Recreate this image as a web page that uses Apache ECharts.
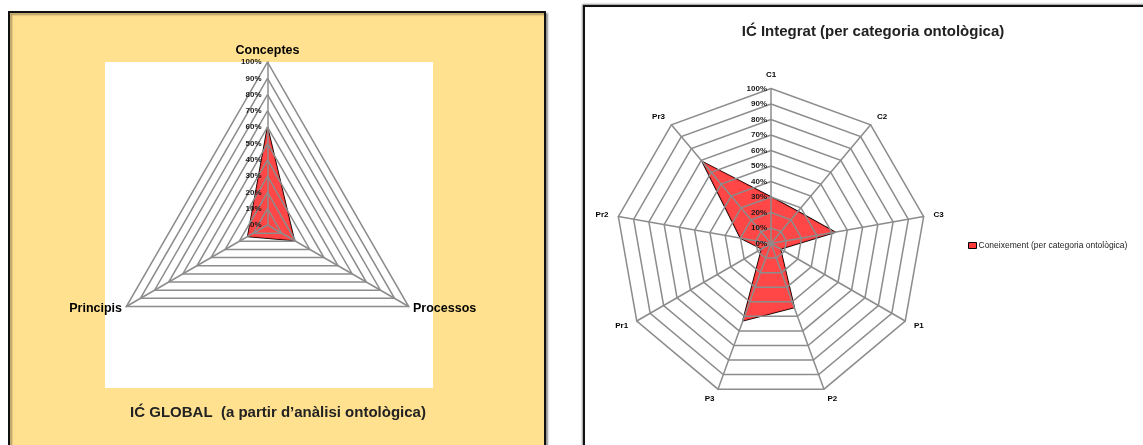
<!DOCTYPE html>
<html><head><meta charset="utf-8">
<script src="https://cdn.jsdelivr.net/npm/echarts@6/dist/echarts.min.js"></script>
<style>html,body{margin:0;padding:0;background:#fff}#c{width:1143px;height:445px}</style>
</head><body><div id="c"></div>
<script>
// ---- data (clockwise from top, as in the reference) ----
const globalCategories = ['Conceptes', 'Processos', 'Principis'];
const globalValues = [60, 19, 14];
const integratCategories = ['C1', 'C2', 'C3', 'P1', 'P2', 'P3', 'Pr1', 'Pr2', 'Pr3'];
const integratValues = [30, 27, 42, 7, 44, 53, 7, 20, 69];
const tickLabels = ['0%', '10%', '20%', '30%', '40%', '50%', '60%', '70%', '80%', '90%', '100%'];
const leftTitle = 'IĆ GLOBAL  (a partir d\u2019anàlisi ontològica)';
const rightTitle = 'IĆ Integrat (per categoria ontològica)';
const legendName = 'Coneixement (per categoria ontològica)';

// ECharts lays radar indicators out counter-clockwise; reorder to get clockwise
const cw = arr => [arr[0]].concat(arr.slice(1).reverse());

const FONT = 'Liberation Sans';
const GRID = '#8c8c8c';

function radarCfg(center, radius, cats, nameSize, nameGap, labelMargin) {
  return {
    z: 3,
    center: center, radius: radius, startAngle: 90, shape: 'polygon', splitNumber: 10,
    indicator: cw(cats).map((n, i) => ({ name: n, min: 0, max: 100, axisLabel: { show: i === 0 } })),
    axisName: { color: '#000', fontSize: nameSize, fontWeight: 'bold', fontFamily: FONT },
    nameGap: nameGap,
    axisLine: { lineStyle: { color: GRID, width: 1.5 } },
    splitLine: { lineStyle: { color: GRID, width: 1.5 } },
    splitArea: { show: false },
    axisTick: { show: false },
    axisLabel: {
      show: true, fontSize: 8, color: '#1a1a1a', fontFamily: FONT, fontWeight: 'bold',
      margin: labelMargin,
      formatter: v => tickLabels[Math.round(v / 10)]
    }
  };
}

const chart = echarts.init(document.getElementById('c'));
chart.setOption({
  animation: false,
  graphic: [
    { type: 'rect', z: -20, shape: { x: 9, y: 12, width: 536, height: 445 },
      style: { fill: '#FFE18F', stroke: '#111', lineWidth: 2, shadowColor: 'rgba(0,0,0,0.35)', shadowOffsetX: 2, shadowOffsetY: 2, shadowBlur: 2 } },
    { type: 'rect', z: -19, shape: { x: 105, y: 62, width: 328, height: 326 },
      style: { fill: '#fff' } },
    { type: 'rect', z: -20, shape: { x: 584, y: 6, width: 580, height: 460 },
      style: { fill: '#fff', stroke: '#111', lineWidth: 2, shadowColor: 'rgba(0,0,0,0.35)', shadowOffsetX: -1, shadowOffsetY: -1, shadowBlur: 2 } }
  ],
  title: [
    { text: leftTitle, left: 273, top: 400, textAlign: 'center',
      textStyle: { fontSize: 15, fontWeight: 'bold', color: '#222', fontFamily: FONT } },
    { text: rightTitle, left: 868, top: 19, textAlign: 'center',
      textStyle: { fontSize: 15, fontWeight: 'bold', color: '#222', fontFamily: FONT } }
  ],
  legend: {
    data: [legendName], left: 963, top: 236, orient: 'vertical',
    icon: 'rect', itemWidth: 8, itemHeight: 6, itemGap: 4,
    itemStyle: { borderColor: '#000', borderWidth: 1 },
    textStyle: { fontSize: 8.5, color: '#222', fontFamily: FONT, padding: [0, 0, 0, -3] }
  },
  radar: [
    radarCfg([267.5, 225], 163, globalCategories, 12.5, 5, 6),
    radarCfg([771, 243.5], 155, integratCategories, 8, 10, 4)
  ],
  series: [
    { type: 'radar', radarIndex: 0, symbol: 'none',
      lineStyle: { color: '#000', width: 1.5 },
      itemStyle: { color: '#FF3B3B' },
      areaStyle: { color: '#FF3333', opacity: 0.9 },
      data: [{ name: 'IĆ GLOBAL', value: cw(globalValues) }] },
    { type: 'radar', radarIndex: 1, symbol: 'none',
      lineStyle: { color: '#000', width: 1.5 },
      itemStyle: { color: '#FF3B3B' },
      areaStyle: { color: '#FF3333', opacity: 0.9 },
      data: [{ name: legendName, value: cw(integratValues) }] }
  ]
});
</script>
</body></html>
